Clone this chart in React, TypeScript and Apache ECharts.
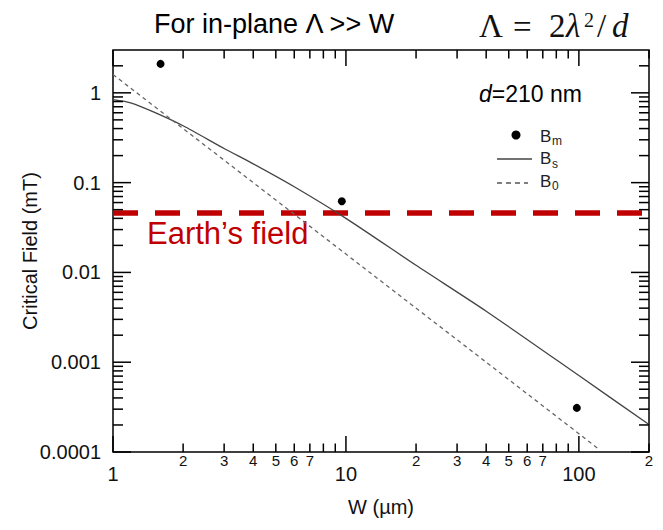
import React, { useEffect, useRef } from 'react';
import * as echarts from 'echarts';

const FONT = '"Liberation Sans", Arial, Helvetica, sans-serif';
const SERIF = '"Liberation Serif", "Times New Roman", serif';

// B_m : measured points
const bmW = [1.6, 9.6, 98];
const bmB = [2.1, 0.062, 0.00031];
// B_s : solid curve
const bsW = [1, 1.2, 1.5, 2, 3, 4, 6, 10, 20, 40, 100, 200];
const bsB = [0.84, 0.77, 0.61, 0.43, 0.24, 0.162, 0.09, 0.04, 0.012, 0.0037, 0.00071, 0.000202];
// B_0 : dashed curve
const b0W = [1, 10, 100, 122];
const b0B = [1.6, 0.016, 0.00016, 0.000107];
// Earth's field
const earthW = [1, 200];
const earthB = [0.046, 0.046];

// axis ticks / labels
const xMajorTicks = [1, 10, 100];
const xMajorLabels = ['1', '10', '100'];
const xMinorTicks = [2, 3, 4, 5, 6, 7, 8, 9, 20, 30, 40, 50, 60, 70, 80, 90, 200];
const xMinorLabels = ['2', '3', '4', '5', '6', '7', '', '', '2', '3', '4', '5', '6', '7', '', '', '2'];
const yMajorTicks = [0.0001, 0.001, 0.01, 0.1, 1];
const yMajorLabels = ['0.0001', '0.001', '0.01', '0.1', '1'];
const yMinorTicks = [
  0.0002, 0.0003, 0.0004, 0.0005, 0.0006, 0.0007, 0.0008, 0.0009,
  0.002, 0.003, 0.004, 0.005, 0.006, 0.007, 0.008, 0.009,
  0.02, 0.03, 0.04, 0.05, 0.06, 0.07, 0.08, 0.09,
  0.2, 0.3, 0.4, 0.5, 0.6, 0.7, 0.8, 0.9, 2,
];

const X_MIN = 1, X_MAX = 200, Y_MIN = 0.0001, Y_MAX = 3;

function findLabel(ticks: number[], labels: string[], v: number) {
  const i = ticks.findIndex((t) => Math.abs(t - v) / t < 1e-6);
  return i >= 0 ? labels[i] : '';
}

function txt(text: string, x: number, y: number, fontSize: number, extra: any = {}) {
  return {
    type: 'text',
    x,
    y,
    style: {
      text,
      fontSize,
      fontFamily: FONT,
      fill: '#111',
      align: 'left',
      verticalAlign: 'middle',
      ...extra,
    },
  };
}

export default function App() {
  const ref = useRef<HTMLDivElement>(null);
  useEffect(() => {
    if (!ref.current) return;
    const chart = echarts.init(ref.current, undefined, { renderer: 'svg' });

    const tickItems: { value: number[]; label: string }[] = [];
    xMajorTicks.forEach((t) => tickItems.push({ value: [t, Y_MIN, 0], label: '' }));
    xMinorTicks.forEach((t, i) => tickItems.push({ value: [t, Y_MIN, 1], label: xMinorLabels[i] }));
    yMajorTicks.forEach((t) => tickItems.push({ value: [X_MIN, t, 2], label: '' }));
    yMinorTicks.forEach((t) => tickItems.push({ value: [X_MIN, t, 3], label: '' }));

    const tickStyle = { stroke: '#000', lineWidth: 1.5 };

    const option: any = {
      animation: false,
      backgroundColor: '#fff',
      title: {
        text: 'For in-plane Λ >> W',
        left: 154,
        top: 10,
        padding: 0,
        textStyle: { fontSize: 27, fontWeight: 'normal', color: '#000', fontFamily: FONT },
      },
      grid: {
        left: 113, right: 14, top: 50, bottom: 78,
        show: true, borderColor: '#000', borderWidth: 1.5, backgroundColor: 'transparent',
      },
      xAxis: {
        type: 'log',
        logBase: 10,
        min: X_MIN,
        max: X_MAX,
        name: 'W (µm)',
        nameLocation: 'middle',
        nameGap: 45,
        nameMoveOverlap: false,
        nameTextStyle: { fontSize: 20, color: '#111', fontFamily: FONT },
        axisLine: { show: false },
        axisTick: { show: false },
        splitLine: { show: false },
        axisLabel: {
          fontSize: 20,
          margin: 12,
          color: '#111',
          fontFamily: FONT,
          showMinLabel: true,
          showMaxLabel: true,
          formatter: (v: number) => findLabel(xMajorTicks, xMajorLabels, v),
        },
      },
      yAxis: {
        type: 'log',
        logBase: 10,
        min: Y_MIN,
        max: Y_MAX,
        name: 'Critical Field (mT)',
        nameLocation: 'middle',
        nameGap: 73,
        nameMoveOverlap: false,
        nameTextStyle: { fontSize: 20, color: '#111', fontFamily: FONT },
        axisLine: { show: false },
        axisTick: { show: false },
        splitLine: { show: false },
        axisLabel: {
          fontSize: 20,
          margin: 12,
          color: '#111',
          fontFamily: FONT,
          formatter: (v: number) => findLabel(yMajorTicks, yMajorLabels, v),
        },
      },
      series: [
        {
          name: "Earth's field",
          type: 'line',
          data: earthW.map((w, i) => [w, earthB[i]]),
          symbol: 'none',
          lineStyle: { color: '#C00000', width: 5.5, type: [25, 17] },
          z: 3,
        },
        {
          name: 'Bs',
          type: 'line',
          data: bsW.map((w, i) => [w, bsB[i]]),
          symbol: 'none',
          smooth: 0.25,
          lineStyle: { color: '#444', width: 1.3 },
          z: 4,
        },
        {
          name: 'B0',
          type: 'line',
          data: b0W.map((w, i) => [w, b0B[i]]),
          symbol: 'none',
          lineStyle: { color: '#666', width: 1.3, type: [4, 3.5] },
          z: 4,
        },
        {
          name: 'Bm',
          type: 'scatter',
          data: bmW.map((w, i) => [w, bmB[i]]),
          symbol: 'circle',
          symbolSize: 8,
          itemStyle: { color: '#000', opacity: 1 },
          z: 5,
        },
        {
          name: 'ticks',
          type: 'custom',
          silent: true,
          clip: false,
          z: 10,
          data: tickItems.map((t) => t.value),
          renderItem: (params: any, api: any) => {
            const cs = params.coordSys;
            const kind = api.value(2);
            const p = api.coord([api.value(0), api.value(1)]);
            const label = tickItems[params.dataIndex].label;
            const children: any[] = [];
            if (kind <= 1) {
              const len = kind === 0 ? 16 : 8.5;
              const x = p[0];
              const bot = cs.y + cs.height;
              children.push({ type: 'line', shape: { x1: x, y1: bot, x2: x, y2: bot - len }, style: tickStyle });
              children.push({ type: 'line', shape: { x1: x, y1: cs.y, x2: x, y2: cs.y + len }, style: tickStyle });
              if (label) {
                children.push({
                  type: 'text',
                  x,
                  y: bot + 1,
                  style: {
                    text: label, fontSize: 15, fontFamily: FONT, fill: '#111',
                    align: 'center', verticalAlign: 'top',
                  },
                });
              }
            } else {
              const len = kind === 2 ? 18 : 10;
              const y = p[1];
              const right = cs.x + cs.width;
              children.push({ type: 'line', shape: { x1: cs.x, y1: y, x2: cs.x + len, y2: y }, style: tickStyle });
              children.push({ type: 'line', shape: { x1: right, y1: y, x2: right - len, y2: y }, style: tickStyle });
            }
            return { type: 'group', children };
          },
        },
      ],
      graphic: [
        // equation  Λ = 2λ²/d
        txt('Λ', 479, 26, 33, { fontFamily: SERIF }),
        txt('=', 513, 27, 33, { fontFamily: SERIF }),
        txt('2', 549, 26, 33, { fontFamily: SERIF }),
        txt('λ', 566, 26, 33, { fontFamily: SERIF, fontStyle: 'italic' }),
        txt('2', 584, 20, 20, { fontFamily: SERIF }),
        txt('/', 597, 26, 33, { fontFamily: SERIF }),
        txt('d', 612, 26, 33, { fontFamily: SERIF, fontStyle: 'italic' }),
        // d = 210 nm
        txt('{i|d}=210 nm', 479, 94, 23, {
          fill: '#000',
          rich: { i: { fontStyle: 'italic', fontSize: 23, fontFamily: FONT, fill: '#000' } },
        }),
        // legend
        { type: 'circle', shape: { cx: 516, cy: 135, r: 4.5 }, style: { fill: '#000' } },
        txt('B', 540, 136, 17, { fill: '#222' }),
        txt('m', 552, 141, 12, { fill: '#222' }),
        { type: 'line', shape: { x1: 497, y1: 159, x2: 532, y2: 159 }, style: { stroke: '#444', lineWidth: 1.3 } },
        txt('B', 540, 158, 17, { fill: '#222' }),
        txt('s', 552, 164, 12, { fill: '#222' }),
        { type: 'line', shape: { x1: 497, y1: 183, x2: 528, y2: 183 }, style: { stroke: '#555', lineWidth: 1.3, lineDash: [5, 4] } },
        txt('B', 540, 181, 17, { fill: '#222' }),
        txt('0', 552, 186, 12, { fill: '#222' }),
        // Earth's field label
        txt('Earth’s field', 147, 233, 31, { fill: '#C00000' }),
      ],
    };
    chart.setOption(option);
    return () => chart.dispose();
  }, []);
  return <div ref={ref} style={{ position: 'fixed', left: 0, top: 0, width: 663, height: 530 }} />;
}
